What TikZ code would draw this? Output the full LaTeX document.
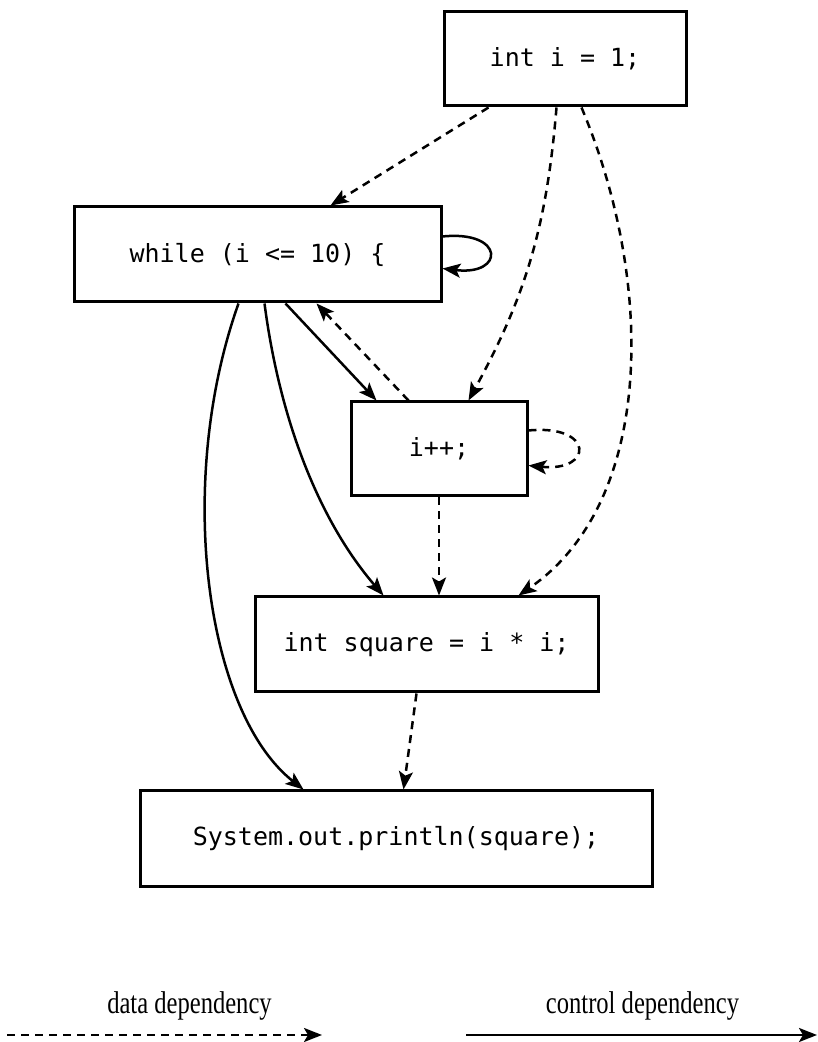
\documentclass[tikz,border=0pt]{standalone}
\usepackage{fontspec}
\setmainfont{Liberation Serif}[FakeStretch=0.78]
\setmonofont{DejaVu Sans Mono}
\usetikzlibrary{arrows.meta}

\tikzset{
  stmt/.style={draw, line width=3pt, inner sep=0pt, font=\ttfamily\fontsize{25}{30}\selectfont},
  ctrl/.style={line width=2.5pt, -{Stealth[length=18pt,width=14pt,inset=4pt]}},
  datadep/.style={ctrl, dash pattern=on 8pt off 6pt},
  legendtext/.style={font=\fontsize{31.5}{38}\selectfont, inner sep=0pt}
}

\begin{document}
\begin{tikzpicture}[x=1pt,y=1pt]
\useasboundingbox (0,0) rectangle (817,1042);

% statements
\node[stmt, minimum width=242pt, minimum height=94pt] (init) at (565,983) {int i = 1;};
\node[stmt, minimum width=367pt, minimum height=95pt] (loop) at (257.5,787.5) {while (i <= 10) \{};
\node[stmt, minimum width=176pt, minimum height=94pt] (incr) at (439,593) {i++;};
\node[stmt, minimum width=343pt, minimum height=95pt] (sq) at (426.5,397.5) {int square = i * i;};
\node[stmt, minimum width=512pt, minimum height=96pt] (out) at (396,203) {System.out.println(square);};

% data dependencies
\draw[datadep] ([xshift=46pt]init.south west) -- ([xshift=258pt]loop.north west);
\draw[datadep] ([xshift=114pt]init.south west) to[bend left=12] ([xshift=119pt]incr.north west);
\draw[datadep] ([xshift=139pt]init.south west) .. controls (655,760) and (655,540) .. ([xshift=265pt]sq.north west);
\draw[datadep] ([xshift=59pt]incr.north west) -- ([xshift=244pt]loop.south west);
\draw[datadep] ([yshift=-30pt]incr.north east) .. controls (594,618) and (594,570) .. ([yshift=-65pt]incr.north east);
\draw[datadep] (incr.south) -- (incr.south |- sq.north);
\draw[datadep] ([xshift=163pt]sq.south west) -- ([xshift=265pt]out.north west);

% control dependencies
\draw[ctrl] ([yshift=-31pt]loop.north east) .. controls (505,812) and (505,766) .. ([yshift=-63pt]loop.north east);
\draw[ctrl] ([xshift=213pt]loop.south west) -- ([xshift=27pt]incr.north west);
\draw[ctrl] ([xshift=192pt]loop.south west) .. controls (280,620) and (320,520) .. ([xshift=130pt]sq.north west);
\draw[ctrl] ([xshift=166pt]loop.south west) .. controls (175,560) and (205,330) .. ([xshift=165pt]out.north west);

% legend
\coordinate (dA) at (7,7);
\coordinate (dB) at (322,7);
\coordinate (cA) at (466,7);
\coordinate (cB) at (817,7);
\draw[datadep] (dA) -- (dB);
\draw[ctrl] (cA) -- (cB);
\node[legendtext] (dlabel) at (189.5,36) {data dependency};
\node[legendtext] (clabel) at (642.5,36) {control dependency};
\end{tikzpicture}
\end{document}
